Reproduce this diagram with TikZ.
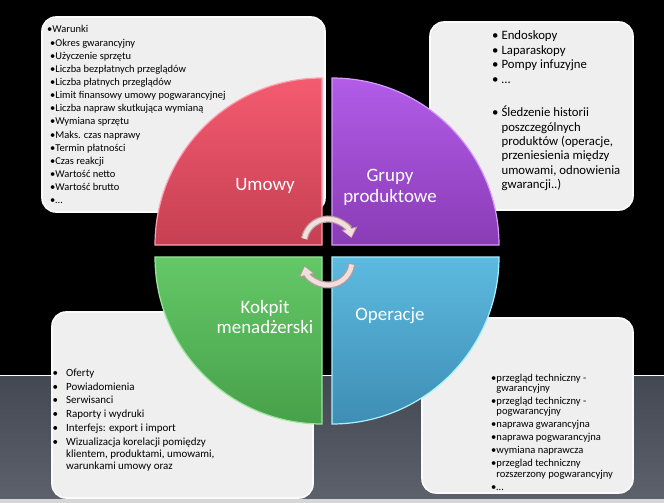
\documentclass[tikz,border=0pt]{standalone}
\usepackage{fontspec}
\setmainfont{Carlito}
\usetikzlibrary{arrows.meta}
\definecolor{boxfill}{HTML}{EFEFEF}
\definecolor{boxedge}{HTML}{FBFBFB}
\definecolor{redtop}{HTML}{F45B70}
\definecolor{redbot}{HTML}{C63F52}
\definecolor{rededge}{HTML}{FF9FB0}
\definecolor{purtop}{HTML}{B25CE8}
\definecolor{purbot}{HTML}{8A3CB6}
\definecolor{puredge}{HTML}{D59BFF}
\definecolor{grntop}{HTML}{64C867}
\definecolor{grnbot}{HTML}{47A04A}
\definecolor{grnedge}{HTML}{9BE69D}
\definecolor{blutop}{HTML}{5DBAE0}
\definecolor{blubot}{HTML}{3E8DB4}
\definecolor{bluedge}{HTML}{A6F2FF}
\definecolor{grayA}{HTML}{444853}
\definecolor{grayB}{HTML}{5D616C}
\definecolor{stripgray}{HTML}{D6D6D6}
\definecolor{arrfill}{HTML}{F3DEDE}
\definecolor{arredge}{HTML}{B89A9A}
\begin{document}
\begin{tikzpicture}[x=1bp,y=-1bp,
  box/.style={fill=boxfill,draw=boxedge,line width=1.6bp,rounded corners=14bp},
  quadlabel/.style={text=white,font=\fontsize{19}{21}\selectfont,align=center,inner sep=0pt},
  listnode/.style={anchor=north west,inner sep=0pt,text=black},
  arrout/.style={draw=arredge,line width=7bp,-{Triangle[length=10bp,width=16bp]}},
  arrin/.style={draw=arrfill,line width=4.6bp,-{Triangle[length=8bp,width=12bp]}}
]
\useasboundingbox (0,0) rectangle (664,503);
% background
\fill[black] (0,0) rectangle (664,375);
\fill[white] (0,374.5) rectangle (664,376.5);
\shade[top color=grayA,bottom color=grayB] (0,376.5) rectangle (664,499);
\fill[stripgray] (0,499) rectangle (664,503);
% text boxes
\draw[box] (42,17) rectangle (325,212);
\draw[box] (430,22) rectangle (633,210);
\draw[box] (52,312) rectangle (313,498);
\draw[box] (422,318) rectangle (633,493);
% lists
\node[listnode,font=\fontsize{10.5}{13.2}\selectfont] (warunki) at (47,23.5) {%
\begin{tabular}{@{}l@{}}
•Warunki\\
\hspace{3bp}•Okres gwarancyjny\\
\hspace{3bp}•Użyczenie sprzętu\\
\hspace{3bp}•Liczba bezpłatnych przeglądów\\
\hspace{3bp}•Liczba płatnych przeglądów\\
\hspace{3bp}•Limit finansowy umowy pogwarancyjnej\\
\hspace{3bp}•Liczba napraw skutkująca wymianą\\
\hspace{3bp}•Wymiana sprzętu\\
\hspace{3bp}•Maks. czas naprawy\\
\hspace{3bp}•Termin płatności\\
\hspace{3bp}•Czas reakcji\\
\hspace{3bp}•Wartość netto\\
\hspace{3bp}•Wartość brutto\\
\hspace{3bp}•…
\end{tabular}};
\node[listnode,font=\fontsize{12.8}{14.5}\selectfont] (grupy) at (492,29.5) {%
\begin{tabular}{@{}l@{\hspace{3bp}}l@{}}
• & Endoskopy\\
• & Laparaskopy\\
• & Pompy infuzyjne\\
• & …\\[4bp]
 & \\
• & Śledzenie historii\\
 & poszczególnych\\
 & produktów (operacje,\\
 & przeniesienia między\\
 & umowami, odnowienia\\
 & gwarancji..)
\end{tabular}};
\node[listnode,font=\fontsize{11}{12}\selectfont] (kokpit) at (52.5,367.5) {%
\begin{tabular}{@{}l@{\hspace{8bp}}l@{}}
• & Oferty\\[2bp]
• & Powiadomienia\\[2bp]
• & Serwisanci\\[2bp]
• & Raporty i wydruki\\[2bp]
• & Interfejs: export i import\\[2bp]
• & Wizualizacja korelacji pomiędzy\\
 & klientem, produktami, umowami,\\
 & warunkami umowy oraz
\end{tabular}};
\node[listnode,font=\fontsize{10.6}{10.5}\selectfont] (operacje) at (491,373.5) {%
\begin{tabular}{@{}l@{}l@{}}
• & przegląd techniczny -\\
 & gwarancyjny\\[2.5bp]
• & przegląd techniczny -\\
 & pogwarancyjny\\[2.5bp]
• & naprawa gwarancyjna\\[2.5bp]
• & naprawa pogwarancyjna\\[2.5bp]
• & wymiana naprawcza\\[2.5bp]
• & przeglad techniczny\\
 & rozszerzony pogwarancyjny\\[2.5bp]
• & …
\end{tabular}};
% quadrants
\path[top color=redtop,bottom color=redbot,draw=rededge,line width=1.2bp]
  (322,245) -- ++(-167,0) arc[start angle=180,end angle=270,radius=167] -- cycle;
\path[top color=purtop,bottom color=purbot,draw=puredge,line width=1.2bp]
  (332,245) -- ++(0,-167) arc[start angle=270,end angle=360,radius=167] -- cycle;
\path[top color=blutop,bottom color=blubot,draw=bluedge,line width=1.2bp]
  (332,257) -- ++(167,0) arc[start angle=0,end angle=90,radius=167] -- cycle;
\path[top color=grntop,bottom color=grnbot,draw=grnedge,line width=1.2bp]
  (322,257) -- ++(0,167) arc[start angle=90,end angle=180,radius=167] -- cycle;
% labels
\node[quadlabel] (umowy) at (265,186) {Umowy};
\node[quadlabel] (grupylbl) at (390,187) {Grupy\\produktowe};
\node[quadlabel] (kokpitlbl) at (265,317) {Kokpit\\menadżerski};
\node[quadlabel] (operlbl) at (390,316) {Operacje};
% circular arrows
\coordinate (ca1) at (328,243);
\coordinate (ca2) at (328,261);
\draw[arrout] (ca1) ++(190:24) arc[start angle=190,end angle=348,radius=24];
\draw[arrin] (ca1) ++(190.5:24) arc[start angle=190.5,end angle=346,radius=24];
\draw[arrout] (ca2) ++(8:24) arc[start angle=8,end angle=168,radius=24];
\draw[arrin] (ca2) ++(8.5:24) arc[start angle=8.5,end angle=166,radius=24];
\end{tikzpicture}
\end{document}
